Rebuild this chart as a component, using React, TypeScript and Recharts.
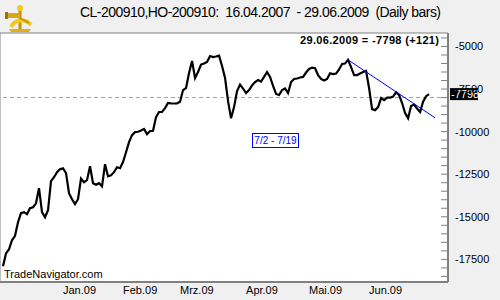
import React from "react";
import {
  LineChart,
  Line,
  XAxis,
  YAxis,
  CartesianGrid,
  ReferenceLine,
  ReferenceArea,
} from "recharts";

// daily closes of the CL/HO spread, Dec 2008 .. 29.06.2009 (one entry per trading day)
const spread: number[] = [
  -17910, -17150, -16910, -16380, -16120, -15320, -14790, -14730, -14850, -14500,
  -14440, -14210, -13320, -14730, -15030, -14620, -12910, -12680, -12380, -12210,
  -12150, -12440, -13620, -13970, -14260, -13970, -12760, -12970, -12850, -12030,
  -13030, -13120, -13030, -13210, -11910, -12620, -12560, -12380, -12090, -12150,
  -11790, -11210, -10620, -10210, -10030, -10010, -9940, -9850, -10150, -9970,
  -9950, -9150, -8850, -8840, -8620, -8320, -8340, -8350, -8340, -8250,
  -7560, -7440, -6560, -5850, -6850, -6500, -6060, -6000, -5910, -5560,
  -5620, -5590, -5540, -6150, -6850, -8210, -9220, -8560, -7620, -7240,
  -7470, -7740, -7560, -7290, -7090, -6970, -7060, -6790, -6500, -6790,
  -7320, -7790, -7850, -7560, -7470, -7740, -7090, -6910, -6880, -6820,
  -6790, -6530, -6320, -6250, -6280, -6680, -6910, -7000, -6910, -6580,
  -6620, -6590, -6350, -6030, -6000, -5790, -6210, -6680, -6680, -6590,
  -6500, -6440, -7440, -8680, -8740, -8560, -8030, -8150, -8010, -8010,
  -7940, -7690, -7850, -8320, -8910, -9220, -8500, -8410, -8650, -8850,
  -8240, -7919, -7798,
];

// first trading day of each month (index into spread)
const monthTicks = [20, 40, 59, 81, 102, 122];
const monthLabels = ["Jan.09", "Feb.09", "Mrz.09", "Apr.09", "Mai.09", "Jun.09"];

const valueTicks: number[] = [];
for (let v = -18500; v <= -4500; v += 500) valueTicks.push(v);

const trendStart = { x: 115, y: -5790 };
const trendEnd = { x: 144, y: -9190 };
const lastValue = -7798;
const lastChange = 121;

const data = spread.map((v, i) => ({ day: i, v }));

const FONT = "'Liberation Sans', Arial, sans-serif";

function MonthTick(props: any) {
  const { x, y, payload } = props;
  const idx = monthTicks.indexOf(payload.value);
  return (
    <text x={x} y={y + 8} fontSize={11} fontFamily={FONT} fill="#000" dominantBaseline="central">
      {monthLabels[idx]}
    </text>
  );
}

function ValueTick(props: any) {
  const { x, y, payload } = props;
  const major = payload.value % 2500 === 0;
  return (
    <g>
      <line x1={x - 7} x2={x} y1={y} y2={y} stroke="#808080" strokeWidth={1} />
      {major && (
        <text x={x + 7} y={y} fontSize={11} fontFamily={FONT} fill="#000" dominantBaseline="central">
          {payload.value}
        </text>
      )}
    </g>
  );
}

function LastValueBox(props: any) {
  const { viewBox } = props;
  const x = viewBox.x + viewBox.width + 2;
  const y = viewBox.y;
  return (
    <g>
      <rect x={x} y={y - 6} width={28} height={12} fill="#000" />
      <text x={x + 1} y={y} fontSize={11} fontFamily={FONT} fill="#fff" dominantBaseline="central">
        {lastValue}
      </text>
    </g>
  );
}

function Sextant() {
  return (
    <svg width={34} height={34} style={{ position: "absolute", left: 3, top: 1 }}>
      <path d="M6 28 L28 28 L26 31 L8 31 Z" fill="#e0b010" />
      <path d="M17 8 L17 28" stroke="#c89000" strokeWidth={3} />
      <path d="M8 26 A12 12 0 0 1 28 24" stroke="#f0c820" strokeWidth={4} fill="none" />
      <rect x={3} y={12} width={14} height={5} fill="#d8a818" />
      <rect x={2} y={11} width={3} height={7} fill="#a07000" />
      <circle cx={17} cy={7} r={3} fill="#f0c820" />
      <path d="M17 17 L26 22" stroke="#c89000" strokeWidth={2} />
    </svg>
  );
}

export default function App() {
  return (
    <div
      style={{
        position: "absolute",
        left: 0,
        top: 0,
        width: 500,
        height: 300,
        background: "#f0f0f0",
        fontFamily: FONT,
        overflow: "hidden",
      }}
    >
      <LineChart width={500} height={300} data={data} margin={{ top: 33, right: 0, bottom: 0, left: 0 }}>
        <ReferenceArea
          x1={-1}
          x2={148.3}
          y1={-18830}
          y2={-4210}
          fill="#fff"
          fillOpacity={1}
          stroke="#808080"
          strokeWidth={1}
        />
        <CartesianGrid horizontal={false} stroke="#999" strokeDasharray="4 3" />
        <XAxis
          dataKey="day"
          type="number"
          domain={[-1, 148.3]}
          ticks={monthTicks}
          tick={<MonthTick />}
          tickLine={false}
          tickSize={0}
          tickMargin={0}
          height={18}
          axisLine={{ stroke: "#808080", strokeWidth: 2 }}
        />
        <YAxis
          orientation="right"
          domain={[-18830, -4210]}
          ticks={valueTicks}
          interval={0}
          tick={<ValueTick />}
          tickLine={false}
          tickSize={0}
          tickMargin={0}
          width={52}
          axisLine={{ stroke: "#808080", strokeWidth: 2 }}
        />
        <ReferenceLine y={-8000} stroke="#a0a0a0" strokeDasharray="4 3" />
        <Line
          dataKey="v"
          stroke="#000"
          strokeWidth={2.2}
          dot={false}
          isAnimationActive={false}
        />
        <ReferenceLine segment={[trendStart, trendEnd]} stroke="#0000ff" strokeWidth={1} />
        <ReferenceLine y={lastValue} stroke="none" label={<LastValueBox />} />
      </LineChart>

      <Sextant />
      <svg width={500} height={50} style={{ position: "absolute", left: 0, top: 0 }}>
        <text
          x={80}
          y={17}
          fontSize={14}
          fontFamily={FONT}
          fill="#000"
          textLength={361}
          lengthAdjust="spacing"
          style={{ whiteSpace: "pre" }}
        >
          {"CL-200910,HO-200910:  16.04.2007  - 29.06.2009  (Daily bars)"}
        </text>
        <text
          x={300}
          y={44}
          fontSize={11}
          fontWeight="bold"
          fontFamily={FONT}
          fill="#000"
          textLength={139}
          lengthAdjust="spacing"
        >
          {`29.06.2009 = ${lastValue} (+${lastChange})`}
        </text>
      </svg>
      <div
        style={{
          position: "absolute",
          left: 252,
          top: 133,
          width: 45,
          height: 13,
          border: "1px solid #0000ff",
          background: "#fff",
          color: "#0000ff",
          fontSize: 10,
          lineHeight: "13px",
          textAlign: "center",
          whiteSpace: "pre",
        }}
      >
        7/2 - 7/19
      </div>
      <div style={{ position: "absolute", left: 4, top: 268, fontSize: 11, color: "#000" }}>
        TradeNavigator.com
      </div>
    </div>
  );
}
